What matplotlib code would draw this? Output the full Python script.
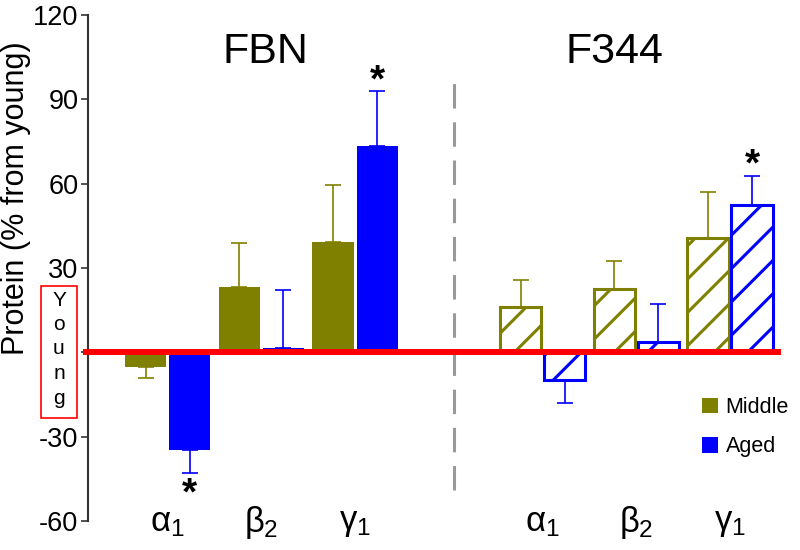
import numpy as np
import matplotlib
matplotlib.use("Agg")
import matplotlib.pyplot as plt
from matplotlib.patches import Patch, Rectangle

plt.rcParams['font.family'] = ['Liberation Sans', 'DejaVu Sans']
plt.rcParams['mathtext.fontset'] = 'custom'
plt.rcParams['mathtext.rm'] = 'Liberation Sans'
plt.rcParams['mathtext.it'] = 'Liberation Sans'
plt.rcParams['hatch.linewidth'] = 2.2
plt.rcParams['axes.unicode_minus'] = False

# values (% change from young)
subunits = [r'$\alpha_1$', r'$\beta_2$', r'$\gamma_1$']
groups = ['FBN', 'F344']

fbn_middle = [-5.2, 23.3, 39.3]
fbn_middle_err = [4.1, 15.5, 20.2]
fbn_aged = [-34.6, 1.7, 73.3]
fbn_aged_err = [8.2, 20.6, 19.6]

f344_middle = [16.2, 22.7, 40.8]
f344_middle_err = [9.5, 9.7, 16.1]
f344_aged = [-9.7, 3.7, 52.3]
f344_aged_err = [8.3, 13.4, 10.4]

# stars: (group, subunit index, star y)
stars = [(0, 0, -50.5), (0, 2, 96.5), (1, 2, 66.5)]

olive = '#808000'
blue = '#0000ff'

fig = plt.figure(figsize=(8, 5.5), dpi=100)
ax = fig.add_axes([88 / 800, 29 / 550, 702 / 800, 506 / 550])

pos_fbn = np.arange(3)
pos_f344 = np.arange(3) + 4
w = 0.44
off = 0.235


def one_sided(vals, errs):
    vals = np.array(vals)
    errs = np.array(errs)
    lower = np.where(vals < 0, errs, 0)
    upper = np.where(vals >= 0, errs, 0)
    return [lower, upper]


def draw(pos, vals, errs, color, hatched):
    if hatched:
        ax.bar(pos, vals, w, facecolor='white', edgecolor=color,
               linewidth=2.2, hatch='/', zorder=2)
    else:
        ax.bar(pos, vals, w, color=color, zorder=2)
    ax.errorbar(pos, vals, yerr=one_sided(vals, errs), fmt='none',
                ecolor=color, elinewidth=1.2, capsize=5.7, capthick=1.2,
                zorder=1)


draw(pos_fbn - off, fbn_middle, fbn_middle_err, olive, False)
draw(pos_fbn + off, fbn_aged, fbn_aged_err, blue, False)
draw(pos_f344 - off, f344_middle, f344_middle_err, olive, True)
draw(pos_f344 + off, f344_aged, f344_aged_err, blue, True)

# zero (young) line
ax.plot([-0.9, 6.54], [0, 0], color='red', linewidth=4.3, zorder=5,
        solid_capstyle='butt', clip_on=False)

# divider
ax.plot([3.05, 3.05], [-49, 96], color='#999999', linewidth=2.2,
        dashes=(8, 4.5), zorder=1)

for g, i, y in stars:
    x = (pos_fbn if g == 0 else pos_f344)[i] + off
    ax.text(x, y, '*', ha='center', va='center', fontsize=28,
            fontweight='bold')

ax.text(1.04, 107, groups[0], ha='center', va='center', fontsize=31)
ax.text(4.77, 107, groups[1], ha='center', va='center', fontsize=31)

for p, lab in zip(np.concatenate([pos_fbn, pos_f344]), subunits * 2):
    ax.text(p, -60.5, lab, ha='center', va='center', fontsize=25)

ticks = np.arange(-60, 121, 30)
ax.set_xlim(-0.85, 6.64)
ax.set_ylim(-60, 120)
ax.set_yticks(ticks)
ax.set_yticklabels(['' if t == 0 else str(t) for t in ticks])
ax.tick_params(axis='y', labelsize=19.5, length=5, width=1.2, pad=2,
               color='#333333')
ax.set_xticks([])
for s in ['top', 'right', 'bottom']:
    ax.spines[s].set_visible(False)
ax.spines['left'].set_linewidth(1.5)
ax.spines['left'].set_color('#333333')

fig.text(16 / 800, 1 - 198 / 550, 'Protein (% from young)', rotation=90,
         ha='center', va='center', fontsize=22)

# "Young" box
fig.patches.append(Rectangle((41 / 800, 1 - 418 / 550), 36 / 800, 132 / 550,
                             transform=fig.transFigure, fill=False,
                             edgecolor='red', linewidth=1.2))
for k, ch in enumerate('Young'):
    fig.text(59 / 800, 1 - (300 + k * 24.5) / 550, ch, ha='center',
             va='center', fontsize=15)

handles = [Patch(facecolor=olive, label='Middle'),
           Patch(facecolor=blue, label='Aged')]
ax.legend(handles=handles, loc='upper left',
          bbox_to_anchor=(702 / 800, 1 - 397 / 550),
          bbox_transform=fig.transFigure, frameon=False,
          fontsize=15.5, handlelength=0.75, handleheight=0.75,
          handletextpad=0.35, labelspacing=0.85, borderpad=0,
          borderaxespad=0)

fig.savefig('out.png', dpi=100)
